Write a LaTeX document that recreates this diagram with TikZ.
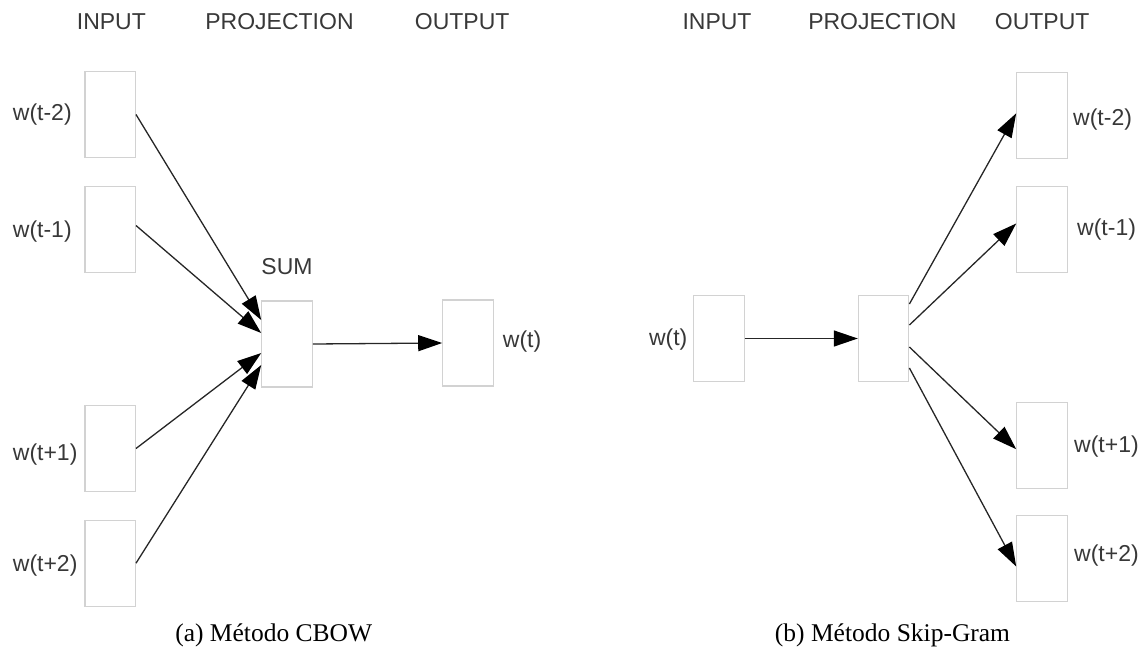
\documentclass[tikz,border=0pt]{standalone}
\usepackage{fontspec}
\setmainfont{Liberation Serif}
\newfontfamily\diagfont{Liberation Sans}
\usetikzlibrary{arrows.meta}
\definecolor{boxgray}{HTML}{D2D2D2}
\definecolor{txtgray}{HTML}{383838}
\begin{document}
\begin{tikzpicture}[x=1pt,y=-1pt,
  vec/.style={draw=boxgray,line width=1.1pt,minimum width=50.5pt,minimum height=86pt,inner sep=0pt},
  lbl/.style={font=\diagfont\fontsize{23}{26}\selectfont,text=txtgray,inner sep=0pt},
  captext/.style={font=\fontsize{25.5}{30}\selectfont,inner sep=0pt},
  arr/.style={line width=1.3pt,draw=black!85,-{Triangle[length=24pt,width=16pt,fill=black,color=black]}}]
\useasboundingbox (0,0) rectangle (1141,651);
% ---------- CBOW ----------
\node[lbl] (hinA) at (111.4,22) {INPUT};
\node[lbl] (hprA) at (279.5,22) {PROJECTION};
\node[lbl] (houA) at (462.2,22) {OUTPUT};
\node[vec] (a1) at (110.2,114.5) {};
\node[vec] (a2) at (110.2,229.5) {};
\node[vec] (a3) at (110.2,448.5) {};
\node[vec] (a4) at (110.2,563.2) {};
\node[vec] (sum) at (287,344) {};
\node[vec] (aout) at (468,343) {};
\node[lbl,anchor=west] (la1) at (12.7,115) {w(t-2)};
\node[lbl,anchor=west] (la2) at (12.7,232) {w(t-1)};
\node[lbl,anchor=west] (la3) at (12.7,455) {w(t+1)};
\node[lbl,anchor=west] (la4) at (12.7,566) {w(t+2)};
\node[lbl] (sumlbl) at (287,267) {SUM};
\node[lbl,anchor=west] (laout) at (502.7,341.5) {w(t)};
\draw[arr] (a1.east) -- ([yshift=24pt]sum.west);
\draw[arr] ([yshift=4pt]a2.east) -- ([yshift=11pt]sum.west);
\draw[arr] (a3.east) -- ([yshift=-9pt]sum.west);
\draw[arr] (a4.east) -- ([yshift=-21pt]sum.west);
\draw[arr] (sum.east) -- (aout.west);
\node[captext] (capA) at (273.7,635) {(a) Método CBOW};
% ---------- Skip-Gram ----------
\node[lbl] (hinB) at (717,22) {INPUT};
\node[lbl] (hprB) at (882.4,22) {PROJECTION};
\node[lbl] (houB) at (1042.2,22) {OUTPUT};
\node[vec] (bin) at (718.9,338.5) {};
\node[vec] (proj) at (883.6,338.5) {};
\node[vec] (b1) at (1042,115.8) {};
\node[vec] (b2) at (1042,229.5) {};
\node[vec] (b3) at (1042,445.2) {};
\node[vec] (b4) at (1042,558.5) {};
\node[lbl,anchor=east] (lbin) at (687.6,340) {w(t)};
\node[lbl,anchor=west] (lb1) at (1073,120) {w(t-2)};
\node[lbl,anchor=west] (lb2) at (1077,230) {w(t-1)};
\node[lbl,anchor=west] (lb3) at (1074,447) {w(t+1)};
\node[lbl,anchor=west] (lb4) at (1074,556) {w(t+2)};
\draw[arr] (bin.east) -- (proj.west);
\draw[arr] ([yshift=34.5pt]proj.east) -- ([yshift=2.5pt]b1.west);
\draw[arr] ([yshift=13.5pt]proj.east) -- ([yshift=6pt]b2.west);
\draw[arr] ([yshift=-8.5pt]proj.east) -- ([yshift=-4pt]b3.west);
\draw[arr] ([yshift=-29.5pt]proj.east) -- ([yshift=-8pt]b4.west);
\node[captext] (capB) at (892.5,635) {(b) Método Skip-Gram};
\end{tikzpicture}
\end{document}
